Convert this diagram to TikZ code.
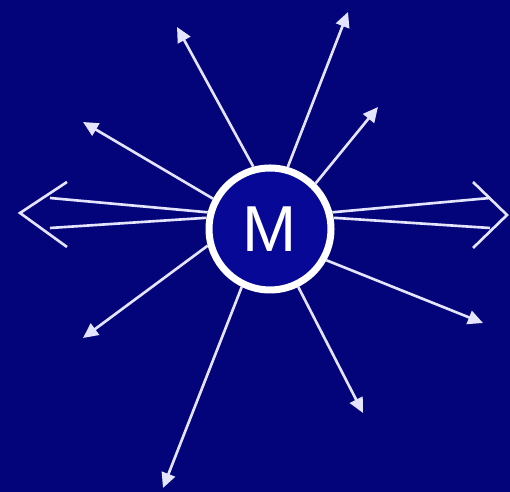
\documentclass[tikz,border=0pt]{standalone}
\usepackage{fontspec}
\setmainfont{Liberation Sans}
\usetikzlibrary{arrows.meta}
\definecolor{nightblue}{RGB}{4,4,122}
\definecolor{discblue}{RGB}{8,8,150}
\definecolor{rayline}{RGB}{228,228,255}

\begin{document}
\begin{tikzpicture}[x=0.02cm,y=0.02cm,
    ray/.style={rayline,line width=1.5pt,-{Triangle[length=0.3cm,width=0.28cm]}},
    beam/.style={rayline,line width=1.5pt,line join=miter},
    hub/.style={circle,draw=white,line width=4pt,fill=discblue,minimum size=2.44cm,inner sep=0pt,text=white,font=\fontsize{37}{37}\selectfont}]
    \fill[nightblue] (0,0) rectangle (510,492);
    \useasboundingbox (0,0) rectangle (510,492);
    \node[hub] (M) at (270,263) {M};
    \foreach \i/\a/\x/\y in {
      1/105/177/465,
      2/74.7/348/480,
      3/45.6/378/385,
      4/152.7/83/370,
      5/195.8/83/154,
      6/244.9/163/4,
      7/296.6/363/79,
      8/331.3/483/169
    } {
      \coordinate (t\i) at (\x,\y);
      \draw[ray] (M.\a) -- (t\i);
    }
    \coordinate (lu) at (50,294);
    \coordinate (ld) at (50,264);
    \coordinate (lv) at (20,279);
    \draw[beam] (M.165) -- (lu);
    \draw[beam] (M.170) -- (ld);
    \draw[beam] (67,310) -- (lv) -- (67,245);
    \coordinate (ru) at (490,294);
    \coordinate (rd) at (490,264);
    \coordinate (rv) at (507,277);
    \draw[beam] (M.15) -- (ru);
    \draw[beam] (M.10) -- (rd);
    \draw[beam] (473,310) -- (rv) -- (473,244);
  \end{tikzpicture}
\end{document}
